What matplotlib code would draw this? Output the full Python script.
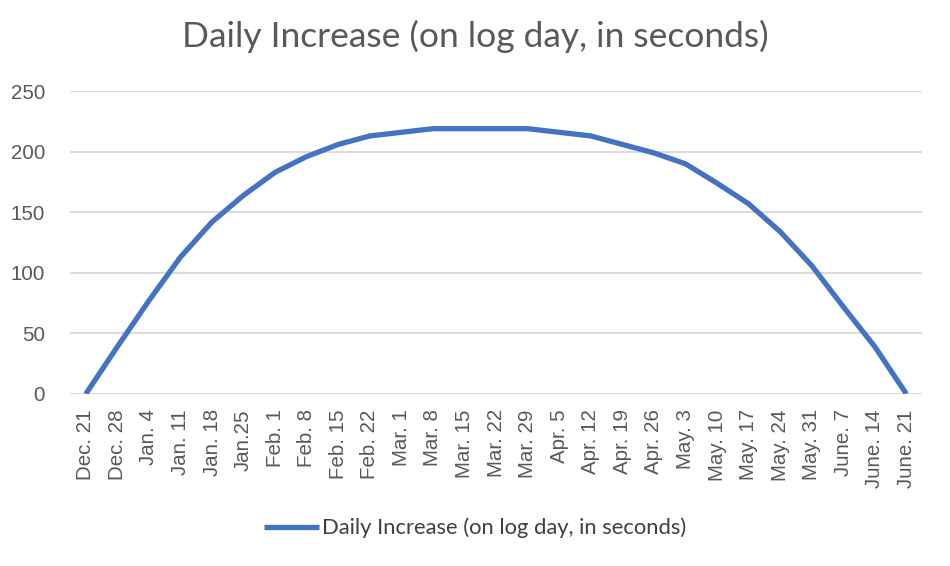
import matplotlib.pyplot as plt

dates = ['Dec. 21', 'Dec. 28', 'Jan. 4', 'Jan. 11', 'Jan. 18', 'Jan.25',
         'Feb. 1', 'Feb. 8', 'Feb. 15', 'Feb. 22', 'Mar. 1', 'Mar. 8',
         'Mar. 15', 'Mar. 22', 'Mar. 29', 'Apr. 5', 'Apr. 12', 'Apr. 19',
         'Apr. 26', 'May. 3', 'May. 10', 'May. 17', 'May. 24', 'May. 31',
         'June. 7', 'June. 14', 'June. 21']
increase = [0, 39, 77, 113, 142, 164, 183, 196, 206, 213, 216, 219,
            219, 219, 219, 216, 213, 206, 199, 190, 174, 157, 134, 106,
            72, 39, 0]

grey = '#595959'

fig = plt.figure(figsize=(9.5, 5.66), dpi=100)
ax = fig.add_axes([0.0737, 0.304, 0.897, 0.535])

x = range(len(dates))
ax.plot(x, increase, color='#4472C4', lw=3.8, solid_capstyle='butt',
        label='Daily Increase (on log day, in seconds)')

ax.set_xlim(-0.5, len(dates) - 0.5)
ax.set_ylim(0, 250)
ax.set_yticks(range(0, 251, 50))
ax.set_xticks(list(x))
ax.set_xticklabels(dates, rotation=90, family='Liberation Sans',
                   fontsize=14.8, color=grey)
for lab in ax.get_yticklabels():
    lab.set_family('Liberation Sans')
    lab.set_fontsize(14.8)
    lab.set_color(grey)
ax.tick_params(axis='y', length=0, pad=18)
ax.tick_params(axis='x', length=0, pad=11)

ax.grid(axis='y', color='#D9D9D9', lw=1.3)
ax.set_axisbelow(True)
for s in ax.spines.values():
    s.set_visible(False)

fig.suptitle('Daily Increase (on log day, in seconds)', y=0.965,
             family='Lato', fontsize=25.5, color=grey)

fig.legend(loc='center', bbox_to_anchor=(0.5, 0.067), frameon=False,
           prop={'family': 'Lato', 'size': 15.8}, handlelength=2.5,
           handletextpad=0.15, labelcolor='#404040')

fig.savefig('out.png', dpi=100)
